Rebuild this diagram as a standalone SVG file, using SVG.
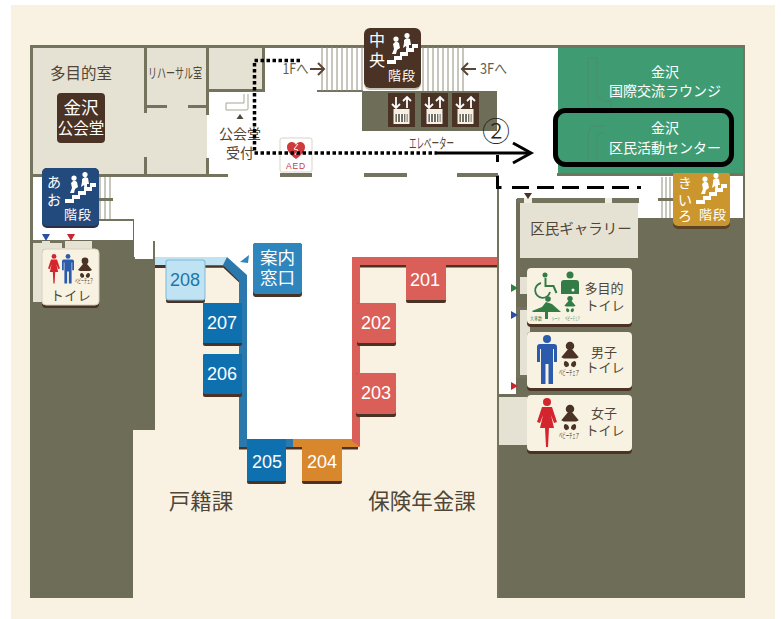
<svg xmlns="http://www.w3.org/2000/svg" xmlns:xlink="http://www.w3.org/1999/xlink" width="781" height="619" viewBox="0 0 781 619">
<style>
text{font-family:"Noto Sans CJK JP","Noto Sans",sans-serif;text-anchor:middle;fill:#4f4637}
.w{fill:#fff}.num{font-family:"Liberation Sans",Arial,sans-serif;font-size:18px;fill:#fff}
.wall{fill:#74745e}.dark{fill:#6d6d58}.room{fill:#e6e2d3}
.route{fill:none;stroke:#000;stroke-width:3}
.fine{fill:none;stroke:#8e8e7a;stroke-width:1}
.sign{fill:#f8f2e3}.shade{fill:#4a3325}
</style>
<defs>
<g id="stair">
<path d="M0 27h7v-4h6v-4h6v-4h6v-4h6v4h-4v4h-6v4h-6v4h-6v4h-9z" fill="#fff"/>
<circle cx="9" cy="6" r="2.6" fill="#fff"/><path d="M5 21l2-5-1-5 3-3 3 2 1 5-3 2-1 4z" fill="#fff"/>
<circle cx="20" cy="2.6" r="2.6" fill="#fff"/><path d="M16 15l1-5 0-3 3-2 3 1 1 6-2 0 0 6-2 0-1-5z" fill="#fff"/>
</g>
<g id="baby" fill="#4a3325">
<circle cx="0" cy="-8" r="3.4"/><path d="M-2-5h4l5 6-2 1h-10l-2-1z"/>
<path d="M-4 4a3 3 0 0 1 3 4l-2 1a3 3 0 0 1-1-5zM4 4a3 3 0 0 0-3 4l2 1a3 3 0 0 0 1-5z"/>
</g>
<g id="man"><circle cx="0" cy="-21" r="4"/><path d="M-7-16h14q3 0 3 3v15h-3v-13h-1v35h-4.500v-20h-3v20h-4.500v-35h-1v13h-3v-15q0-3 3-3z"/></g>
<g id="woman"><circle cx="0" cy="-21" r="4"/><path d="M-5-16h10l5 15-3 1-3-8 3 13h-5l-1 19h-2l-1-19h-5l3-13-3 8-3-1z"/></g>
<g id="lift">
<rect x="0" y="0" width="27" height="34" fill="#4a3325"/>
<path d="M4 11l4 4 4-4M8 15v-11M15 8l4-4 4 4M19 4v11" fill="none" stroke="#fff" stroke-width="1.800"/>
<rect x="5.500" y="16" width="16" height="15" fill="#f4f0e4"/>
<rect x="7.500" y="21" width="12" height="8" fill="#5b5346"/>
<path d="M9.500 21v8M12.500 21v8M15.500 21v8M18 21v8" stroke="#fff" stroke-width="1.300"/>
</g>
</defs>

<rect width="781" height="619" fill="#fff"/>
<rect x="11" y="5" width="764" height="614" fill="#f9f2e3"/>

<g id="floor">
<rect x="30" y="45" width="715" height="553" class="dark"/>
<rect x="33" y="47" width="710" height="128" fill="#fff"/>
<rect x="33" y="175" width="465" height="45" fill="#fff"/>
<rect x="33" y="220" width="100" height="20" fill="#fff"/>
<rect x="134" y="220" width="364" height="37" fill="#fff"/>
<rect x="135" y="237" width="18" height="22" fill="#fff"/>
<rect x="155" y="257" width="342" height="341" fill="#f9f2e3"/>
<rect x="133" y="430" width="22" height="168" fill="#f9f2e3"/>
<path d="M224 257H247V278z" fill="#fff"/>
<rect x="247" y="257" width="105" height="182" fill="#fff"/>
<rect x="497" y="175" width="248" height="423" class="dark"/>
<rect x="497" y="175" width="246" height="24" fill="#fff"/>
<rect x="497" y="175" width="2" height="423" class="wall"/>
<rect x="499" y="190" width="17" height="204" fill="#fff"/>
<rect x="499" y="397" width="28" height="48" fill="#e6e2d3"/>
<rect x="638" y="175" width="105" height="43" fill="#fff"/>
</g>

<g id="walls">
<rect x="33" y="47" width="174" height="128" class="room"/>
<rect x="208" y="47" width="55" height="44" class="room"/>
<rect x="30" y="45" width="715" height="3" class="wall"/>
<rect x="30" y="45" width="3" height="195" class="wall"/>
<rect x="743" y="45" width="2" height="130" class="wall"/>
<rect x="144" y="47" width="3" height="66" class="wall"/>
<rect x="144" y="157" width="3" height="18" class="wall"/>
<rect x="144" y="105" width="23" height="3" class="wall"/>
<rect x="188" y="105" width="20" height="3" class="wall"/>
<rect x="206" y="47" width="3" height="68" class="wall"/>
<rect x="206" y="158" width="3" height="17" class="wall"/>
<rect x="208" y="89" width="56" height="3" class="wall"/>
<rect x="262" y="47" width="3" height="45" class="wall"/>
<rect x="30" y="174" width="198" height="3" class="wall"/>
<rect x="280" y="173" width="32" height="4" class="wall"/>
<rect x="364" y="173" width="43" height="4" class="wall"/>
<rect x="457" y="173" width="41" height="4" class="wall"/>
<rect x="557" y="173" width="188" height="3" class="wall"/>
<path d="M248 94v15q0 1-2 1h-20v-7h18v-9" fill="none" stroke="#a5a594" stroke-width="1"/>
<rect x="362" y="91" width="135" height="40" class="dark"/>
<rect x="317" y="90" width="46" height="2" class="wall"/>
<path class="fine" d="M322 47v44M327 47v44M332 47v44M337 47v44M342 47v44M347 47v44M352 47v44M357 47v44M362 47v44M423 47v44M428 47v44M433 47v44M438 47v44M443 47v44M448 47v44M453 47v44M458 47v44M463 47v44"/>
<path class="fine" d="M100 177v43M105 177v43M110 177v43"/>
<rect x="99" y="198" width="14" height="3" class="wall"/>
<rect x="99" y="219" width="35" height="2" class="wall"/>
<path class="fine" d="M662 177v41M666 177v41M670 177v41"/>
<rect x="658" y="198" width="15" height="3" class="wall"/>
<rect x="33" y="241" width="59" height="61" fill="#e6e2d3"/>
<rect x="153" y="241" width="2" height="18" class="wall"/>
<rect x="33" y="240" width="9" height="3" class="wall"/>
<rect x="50" y="240" width="15" height="3" class="wall"/>
<rect x="62" y="240" width="3" height="8" class="wall"/>
<rect x="517" y="198" width="122" height="5" class="wall"/>
<rect x="524" y="198" width="8" height="5" fill="#efece0"/>
<rect x="605" y="198" width="7" height="5" fill="#efece0"/>
<rect x="520" y="203" width="118" height="55" class="room"/>
<rect x="520" y="277" width="10" height="17" class="room"/>
<rect x="520" y="310" width="10" height="66" class="room"/>
<rect x="516" y="307" width="14" height="3" class="wall"/>
<rect x="516" y="307" width="3" height="71" class="wall"/>
<rect x="516" y="375" width="14" height="3" class="wall"/>
</g>

<g id="counter-lines">
<rect x="155" y="265" width="12" height="3" class="shade"/>
<path d="M204 266.500H224L240.500 282" fill="none" stroke="#4a3325" stroke-width="2.500"/>
<rect x="155" y="257" width="72" height="8" fill="#bfe3f2"/>
<path d="M227 257L247 275V447H239V281L223 265Z" fill="#2b78ad"/>
<rect x="239" y="447" width="119" height="2.500" class="shade"/>
<rect x="239" y="439" width="54" height="8" fill="#2b78ad"/>
<path d="M293 439H359V447H293z" fill="#d9872c"/>
<path d="M352 441V257H497V265H360V447z" fill="#db5f59"/>
<rect x="360" y="265" width="137" height="2.500" class="shade"/>
</g>

<g id="office-labels">
<text x="201" y="509" font-size="21.500">戸籍課</text>
<text x="422" y="509" font-size="21.500">保険年金課</text>
</g>

<g id="hall">
<text x="81" y="79" font-size="15.500">多目的室</text>
<rect x="57" y="93" width="48" height="50" rx="4" fill="#4a3325"/>
<text x="81" y="114" font-size="17.500" style="fill:#fff">金沢</text>
<text x="81" y="134" font-size="15.500" style="fill:#fff">公会堂</text>
<text x="175" y="78" font-size="14" textLength="54" lengthAdjust="spacingAndGlyphs">リハーサル室</text>
<text x="240" y="139" font-size="14">公会堂</text>
<text x="240" y="158" font-size="14">受付</text>
<path d="M240 114l3.500 5h-7z" fill="#4f4637"/>
</g>

<g id="stairs-center">
<rect x="364" y="30" width="57" height="60" rx="6" fill="#c9c2ae"/>
<rect x="364" y="28" width="57" height="60" rx="6" fill="#4a3325"/>
<text x="377" y="46" font-size="16" style="fill:#fff">中</text>
<text x="377" y="66" font-size="16" style="fill:#fff">央</text>
<text x="402" y="80" font-size="13" letter-spacing="1" style="fill:#fff">階段</text>
<use xlink:href="#stair" href="#stair" x="387" y="33"/>
</g>

<g id="floor-arrows">
<text x="295.500" y="74" font-size="15" textLength="26" lengthAdjust="spacingAndGlyphs" style="fill:#5f5f4e">1Fへ</text>
<path d="M310 69h14M318 63l6 6-6 6" fill="none" stroke="#5a4636" stroke-width="2"/>
<text x="493.500" y="74" font-size="15" textLength="27" lengthAdjust="spacingAndGlyphs" style="fill:#5f5f4e">3Fへ</text>
<path d="M476 69h-14M468 63l-6 6 6 6" fill="none" stroke="#5a4636" stroke-width="2"/>
</g>

<g id="elevators">
<use xlink:href="#lift" href="#lift" x="388" y="93"/>
<use xlink:href="#lift" href="#lift" x="421" y="93"/>
<use xlink:href="#lift" href="#lift" x="452" y="93"/>
<text x="431.500" y="148" font-size="14" textLength="45" lengthAdjust="spacingAndGlyphs">エレベーター</text>
</g>

<g id="aed">
<rect x="280" y="138" width="32" height="34" rx="2" fill="#fff" stroke="#d8d3c5"/>
<path d="M296 159c-7-5-9-9-9-12 0-5 7-7 9-2 2-5 9-3 9 2 0 3-2 7-9 12z" fill="#cf3a3a"/>
<path d="M298 144l-4 5 4 1-3 5" fill="none" stroke="#fff" stroke-width="1"/>
<text x="296" y="169" font-size="8.500" letter-spacing="0.800" style="fill:#c8393c;font-family:'Liberation Sans',sans-serif">AED</text>
</g>

<g id="stairs-ao">
<rect x="42" y="168" width="57" height="60" rx="5" fill="#2c2f43"/>
<rect x="42" y="168" width="57" height="58" rx="5" fill="#234a7c"/>
<text x="54" y="187" font-size="14" style="fill:#fff">あ</text>
<text x="54" y="205" font-size="14" style="fill:#fff">お</text>
<text x="78" y="219" font-size="13" letter-spacing="1" style="fill:#fff">階段</text>
<use xlink:href="#stair" href="#stair" x="65" y="172"/>
</g>

<g id="stairs-kiiro">
<rect x="673" y="170" width="57" height="59" rx="5" fill="#5b4326"/>
<rect x="673" y="170" width="57" height="56" rx="5" fill="#cc962f"/>
<text x="685" y="188" font-size="14" style="fill:#fff">き</text>
<text x="685" y="205" font-size="14" style="fill:#fff">い</text>
<text x="685" y="221" font-size="14" style="fill:#fff">ろ</text>
<text x="713" y="219" font-size="13" letter-spacing="1" style="fill:#fff">階段</text>
<use xlink:href="#stair" href="#stair" x="696" y="173"/>
</g>

<g id="lounge">
<rect x="558" y="48" width="185" height="125" fill="#3f9c72"/>
<path d="M588 58h9v40h3l3 3h8v12h-12q-11 0-11-11z" fill="none" stroke="#4f8a6c" stroke-width="1"/>
<path d="M605 126h-9q-8 0-8 10v25M597 160v-25l2-2h6" fill="none" stroke="#4f8a6c" stroke-width="1"/>
<text x="665" y="77" font-size="14" style="fill:#fff">金沢</text>
<text x="665" y="96" font-size="14" style="fill:#fff">国際交流ラウンジ</text>
<text x="665" y="133" font-size="14" style="fill:#fff">金沢</text>
<text x="665" y="153" font-size="14" style="fill:#fff">区民活動センター</text>
</g>

<g id="gallery">
<text x="581" y="234" font-size="14.500">区民ギャラリー</text>
<path d="M524 193h8l-4 6z" fill="#4a3325"/>
</g>

<g id="toilet-left">
<rect x="42" y="249" width="57" height="59" rx="4" class="shade"/>
<rect x="42" y="249" width="57" height="56" rx="4" class="sign" stroke="#d6d0bf"/>
<use xlink:href="#woman" href="#woman" transform="translate(54 269) scale(.6)" fill="#d4252f"/>
<use xlink:href="#man" href="#man" transform="translate(68 269) scale(.6)" fill="#2c5bab"/>
<use xlink:href="#baby" href="#baby" transform="translate(85 269) scale(1)"/>
<text x="84" y="283" font-size="6" textLength="18" lengthAdjust="spacingAndGlyphs" style="fill:#4a3325">ベビーチェア</text>
<text x="71" y="300" font-size="13" letter-spacing="0.500">トイレ</text>
<path d="M42 234h8l-4 7z" fill="#2c4ea3"/>
<path d="M67 234h8l-4 7z" fill="#c9252f"/>
</g>

<g id="toilet-multi">
<rect x="527" y="268" width="105" height="59" rx="4" class="shade"/>
<rect x="527" y="268" width="105" height="56" rx="4" class="sign"/>
<circle cx="545" cy="275" r="2.500" fill="#347c45"/>
<path d="M545.500 278v8h8l3 7" fill="none" stroke="#347c45" stroke-width="2"/>
<path d="M541 283a7.500 7.500 0 1 0 9 9" fill="none" stroke="#347c45" stroke-width="1.800"/>
<circle cx="570" cy="275" r="3.500" fill="#347c45"/>
<path d="M564 280h12a3 3 0 0 1 3 3v11h-18v-11a3 3 0 0 1 3-3z" fill="#347c45"/>
<circle cx="573" cy="290" r="1.500" fill="#fff"/>
<circle cx="548" cy="299" r="2.800" fill="#347c45"/>
<path d="M532 311l10-4 4-5 6 2 9 8h-28zM545 312h3v7h-3z" fill="#347c45"/>
<g transform="translate(570 305) scale(.8)" fill="#347c45"><circle cx="0" cy="-8" r="3.400"/><path d="M-2-5h4l5 6-2 1h-10l-2-1z"/><path d="M-4 4a3 3 0 0 1 3 4l-2 1a3 3 0 0 1-1-5zM4 4a3 3 0 0 0-3 4l2 1a3 3 0 0 0 1-5z"/></g>
<text x="536" y="320" font-size="4.500" textLength="12" lengthAdjust="spacingAndGlyphs" style="fill:#347c45">大多数</text>
<text x="556" y="320" font-size="4.500" textLength="9" lengthAdjust="spacingAndGlyphs" style="fill:#347c45">シート</text>
<text x="572.500" y="320" font-size="4.500" textLength="15" lengthAdjust="spacingAndGlyphs" style="fill:#347c45">ベビーチェア</text>
<text x="604" y="293" font-size="13">多目的</text>
<text x="605" y="310" font-size="13">トイレ</text>
<path d="M511 284v8l7-4z" fill="#347c45"/>
<path d="M511 311v8l7-4z" fill="#2c4ea3"/>
</g>

<g id="toilet-men">
<rect x="527" y="332" width="105" height="59" rx="4" class="shade"/>
<rect x="527" y="332" width="105" height="56" rx="4" class="sign"/>
<use xlink:href="#man" href="#man" transform="translate(547 360)" fill="#2c5bab"/>
<use xlink:href="#baby" href="#baby" transform="translate(570 356) scale(1.250)"/>
<text x="569" y="375" font-size="7" textLength="20" lengthAdjust="spacingAndGlyphs" style="fill:#4a3325">ベビーチェア</text>
<text x="604" y="357" font-size="13">男子</text>
<text x="605" y="372" font-size="13">トイレ</text>
<path d="M511 382v8l7-4z" fill="#c9252f"/>
</g>

<g id="toilet-women">
<rect x="527" y="395" width="105" height="59" rx="4" class="shade"/>
<rect x="527" y="395" width="105" height="56" rx="4" class="sign"/>
<use xlink:href="#woman" href="#woman" transform="translate(547 423)" fill="#d4252f"/>
<use xlink:href="#baby" href="#baby" transform="translate(570 419) scale(1.250)"/>
<text x="569" y="438" font-size="7" textLength="20" lengthAdjust="spacingAndGlyphs" style="fill:#4a3325">ベビーチェア</text>
<text x="604" y="418" font-size="13">女子</text>
<text x="605" y="435" font-size="13">トイレ</text>
</g>

<g id="info">
<rect x="253" y="243" width="49" height="54" rx="3" class="shade"/>
<rect x="253" y="243" width="49" height="51" rx="3" fill="#2f86bd"/>
<text x="277.500" y="264" font-size="17.500" style="fill:#fff">案内</text>
<text x="277.500" y="284" font-size="17.500" style="fill:#fff">窓口</text>
<path d="M249 255l-1 8-8-1z" fill="#2f86bd"/>
</g>

<g id="counter-208"><rect x="166" y="260" width="39" height="43" rx="2" class="shade"/><rect x="166" y="260" width="39" height="40" rx="2" fill="#bfe3f2" stroke="#7fb9d6"/><text x="185" y="286" class="num" style="fill:#1f74a8">208</text></g>
<g id="counter-207"><rect x="203" y="303" width="39" height="43" rx="2" class="shade"/><rect x="203" y="303" width="39" height="40" fill="#0f70b0"/><text x="222" y="329" class="num">207</text></g>
<g id="counter-206"><rect x="203" y="354" width="39" height="43" rx="2" class="shade"/><rect x="203" y="354" width="39" height="40" rx="2" fill="#0f70b0"/><text x="222" y="380" class="num">206</text></g>
<g id="counter-205"><rect x="247" y="442" width="39" height="42" rx="2" class="shade"/><rect x="247" y="439" width="39" height="42" fill="#0f70b0"/><text x="267" y="468" class="num">205</text></g>
<g id="counter-204"><rect x="302" y="442" width="40" height="42" rx="2" class="shade"/><rect x="302" y="439" width="40" height="42" fill="#d9872c"/><text x="322" y="468" class="num">204</text></g>
<g id="counter-203"><rect x="356" y="373" width="40" height="44" rx="2" class="shade"/><rect x="356" y="373" width="40" height="41" rx="2" fill="#db5f59"/><text x="376" y="399" class="num">203</text></g>
<g id="counter-202"><rect x="357" y="303" width="39" height="43" rx="2" class="shade"/><rect x="357" y="303" width="39" height="40" rx="2" fill="#db5f59"/><text x="376" y="329" class="num">202</text></g>
<g id="counter-201"><rect x="406" y="262" width="40" height="41" rx="2" class="shade"/><rect x="406" y="258" width="40" height="42" fill="#db5f59"/><text x="425" y="286" class="num">201</text></g>

<g id="connectors">
<path class="route" style="stroke-width:3.500" stroke-dasharray="3.500 2.500" d="M300 60.500H254.500V153H437"/>
<path d="M437 153H530" fill="none" stroke="#000" stroke-width="3"/>
<path d="M513 143L531 153L513 163" fill="none" stroke="#000" stroke-width="3"/>
<path class="route" d="M497.500 155v7M497.500 176v11.500h4"/>
<path class="route" stroke-dasharray="17 8" d="M512 187.500H641"/>
<rect x="555.500" y="110.500" width="176" height="54" rx="10" fill="none" stroke="#000" stroke-width="5"/>
<text x="496" y="142" font-size="28" style="fill:#222;font-weight:300;font-family:'Liberation Serif','Noto Sans CJK JP',serif">②</text>
</g>
</svg>
